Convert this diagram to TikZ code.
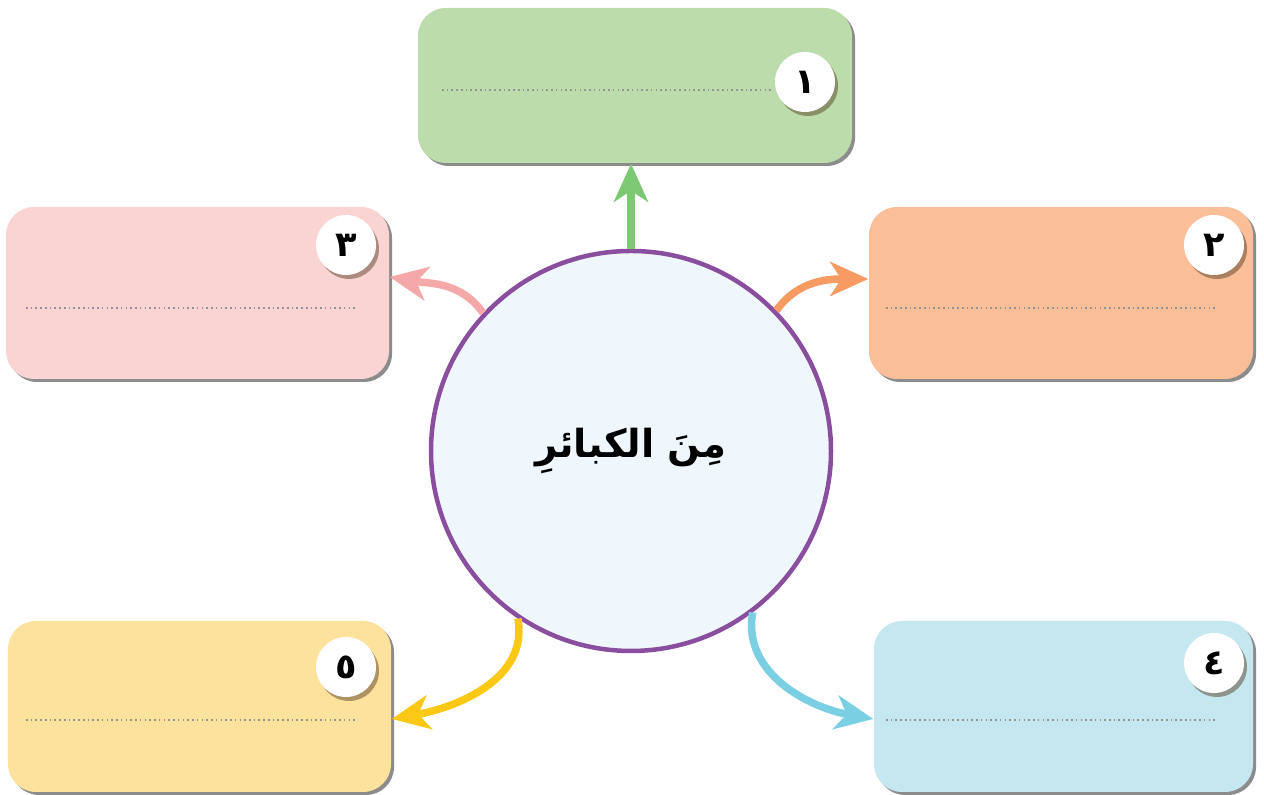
\documentclass[tikz,border=0pt]{standalone}
\usepackage{fontspec}
\usetikzlibrary{arrows.meta,shadows,positioning}
\newfontfamily\arabicfont[Script=Arabic]{DejaVu Sans}
\TeXXeTstate=1

\definecolor{greenbox}{HTML}{BCDCAB}
\definecolor{greenline}{HTML}{7DC873}
\definecolor{orangebox}{HTML}{FABE99}
\definecolor{orangeline}{HTML}{F79B63}
\definecolor{pinkbox}{HTML}{FAD4D2}
\definecolor{pinkline}{HTML}{F4A9A8}
\definecolor{yellowbox}{HTML}{FDE29E}
\definecolor{yellowline}{HTML}{FCC816}
\definecolor{bluebox}{HTML}{C5E7EF}
\definecolor{blueline}{HTML}{7ACFE3}
\definecolor{hubfill}{HTML}{EFF7FC}
\definecolor{hubline}{HTML}{8A4E9F}

\begin{document}
\begin{tikzpicture}[
	card/.style={rectangle,rounded corners=0.28cm,inner sep=0pt,
		drop shadow={shadow xshift=0.03cm,shadow yshift=-0.03cm,fill=gray!90,opacity=1}},
	badge/.style={circle,fill=white,inner sep=0pt,minimum size=0.6cm,
		font=\arabicfont\bfseries\fontsize{10}{12}\selectfont,
		drop shadow={shadow xshift=0.03cm,shadow yshift=-0.04cm,fill=black!60!brown,opacity=0.45}},
	blank/.style={dash pattern=on 0.45pt off 0.9pt,gray!85,line width=0.45pt},
	link/.style={line width=0.075cm,-{Stealth[length=0.38cm,width=0.34cm,inset=0.11cm]}}
	]
	\useasboundingbox (0,0) rectangle (12.64,7.95);

	% the five answer cards
	\node[card,fill=greenbox,minimum width=4.34cm,minimum height=1.55cm] (b1) at (6.35,7.095) {};
	\node[card,fill=orangebox,minimum width=3.84cm,minimum height=1.72cm] (b2) at (10.61,5.02) {};
	\node[card,fill=pinkbox,minimum width=3.83cm,minimum height=1.72cm] (b3) at (1.975,5.02) {};
	\node[card,fill=bluebox,minimum width=3.79cm,minimum height=1.71cm] (b4) at (10.635,0.885) {};
	\node[card,fill=yellowbox,minimum width=3.83cm,minimum height=1.71cm] (b5) at (1.995,0.885) {};

	\node[badge] (n1) at (8.05,7.13) {١};
	\node[badge] (n2) at (12.14,5.50) {٢};
	\node[badge] (n3) at (3.46,5.50) {٣};
	\node[badge] (n4) at (12.14,1.32) {٤};
	\node[badge] (n5) at (3.46,1.28) {٥};

	\draw[blank] (4.42,7.05) -- (7.72,7.05);
	\draw[blank] (8.86,4.87) -- (12.17,4.87);
	\draw[blank] (0.26,4.87) -- (3.56,4.87);
	\draw[blank] (8.86,0.75) -- (12.17,0.75);
	\draw[blank] (0.26,0.75) -- (3.56,0.75);

	% centre
	\node[circle,fill=hubfill,draw=hubline,line width=0.045cm,minimum size=4cm,
		font=\arabicfont\bfseries\fontsize{11}{13}\selectfont] (c) at (6.31,3.44)
		{\beginR مِنَ الكبائرِ\endR};

	\draw[link,greenline] (c.north) -- (c.north |- b1.south);
	\draw[link,orangeline] (c.44) to[out=55,in=180] ([yshift=0.14cm]b2.west);
	\draw[link,pinkline] (c.137) to[out=125,in=-10] ([yshift=0.16cm]b3.east);
	\draw[link,blueline] (c.-53) to[out=-100,in=170] ([yshift=-0.125cm]b4.west);
	\draw[link,yellowline] (c.236) to[out=-80,in=10] ([yshift=-0.125cm]b5.east);

\end{tikzpicture}
\end{document}
